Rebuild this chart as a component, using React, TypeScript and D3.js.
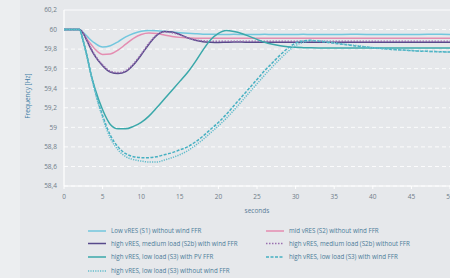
import * as d3 from 'd3';

const time = [0, 1, 2, 2.5, 3, 3.5, 4, 5, 6, 7, 8, 9, 10, 11, 12, 13, 14, 15, 16, 17, 18, 19, 20, 21, 22, 23, 24, 25, 26, 27, 28, 29, 30, 31, 32, 33, 34, 36, 38, 40, 42, 44, 46, 48, 50];

const s1 = [60, 60, 60, 59.97, 59.93, 59.89, 59.86, 59.822, 59.835, 59.875, 59.925, 59.96, 59.982, 59.99, 59.988, 59.982, 59.975, 59.968, 59.962, 59.957, 59.953, 59.952, 59.95, 59.95, 59.951, 59.95, 59.949, 59.95, 59.951, 59.95, 59.95, 59.949, 59.95, 59.951, 59.95, 59.95, 59.949, 59.95, 59.951, 59.95, 59.95, 59.949, 59.95, 59.951, 59.95];
const s2 = [60, 60, 60, 59.96, 59.9, 59.85, 59.8, 59.745, 59.75, 59.79, 59.85, 59.91, 59.95, 59.965, 59.96, 59.945, 59.93, 59.92, 59.915, 59.912, 59.91, 59.91, 59.91, 59.91, 59.91, 59.91, 59.91, 59.91, 59.91, 59.91, 59.91, 59.91, 59.91, 59.91, 59.91, 59.91, 59.91, 59.91, 59.91, 59.91, 59.91, 59.91, 59.91, 59.91, 59.91];
const s2bWind = [60, 60, 60, 59.96, 59.88, 59.8, 59.73, 59.63, 59.565, 59.55, 59.57, 59.64, 59.74, 59.85, 59.94, 59.98, 59.975, 59.95, 59.915, 59.89, 59.875, 59.87, 59.868, 59.87, 59.872, 59.872, 59.87, 59.87, 59.871, 59.87, 59.87, 59.87, 59.87, 59.87, 59.87, 59.87, 59.87, 59.87, 59.87, 59.87, 59.87, 59.87, 59.87, 59.87, 59.87];
const s2bNoFfr = [60, 60, 60, 59.96, 59.885, 59.81, 59.74, 59.64, 59.575, 59.56, 59.58, 59.65, 59.75, 59.86, 59.945, 59.975, 59.968, 59.945, 59.915, 59.895, 59.885, 59.88, 59.88, 59.88, 59.88, 59.88, 59.88, 59.88, 59.88, 59.88, 59.88, 59.88, 59.88, 59.88, 59.88, 59.88, 59.88, 59.88, 59.88, 59.88, 59.88, 59.88, 59.88, 59.88, 59.88];
const s3Pv = [60, 60, 60, 59.88, 59.72, 59.54, 59.4, 59.18, 59.03, 58.985, 58.985, 59.01, 59.05, 59.115, 59.2, 59.29, 59.38, 59.47, 59.56, 59.67, 59.79, 59.895, 59.96, 59.99, 59.98, 59.96, 59.93, 59.9, 59.87, 59.85, 59.835, 59.825, 59.818, 59.815, 59.813, 59.812, 59.812, 59.812, 59.812, 59.812, 59.812, 59.812, 59.812, 59.812, 59.812];
const s3Wind = [60, 60, 60, 59.88, 59.72, 59.54, 59.38, 59.12, 58.92, 58.8, 58.73, 58.7, 58.69, 58.69, 58.7, 58.72, 58.74, 58.77, 58.8, 58.85, 58.91, 58.98, 59.05, 59.13, 59.22, 59.31, 59.4, 59.49, 59.58, 59.66, 59.74, 59.81, 59.86, 59.885, 59.89, 59.88, 59.87, 59.85, 59.83, 59.815, 59.8, 59.79, 59.78, 59.775, 59.77];
const s3NoWind = [60, 60, 60, 59.88, 59.72, 59.54, 59.37, 59.1, 58.89, 58.77, 58.7, 58.67, 58.655, 58.645, 58.645, 58.665, 58.69, 58.72, 58.76, 58.815, 58.875, 58.945, 59.015, 59.09, 59.175, 59.265, 59.355, 59.445, 59.535, 59.62, 59.7, 59.775, 59.835, 59.87, 59.885, 59.885, 59.878, 59.855, 59.835, 59.815, 59.8, 59.79, 59.78, 59.775, 59.77];

const yTicks = [58.4, 58.6, 58.8, 59, 59.2, 59.4, 59.6, 59.8, 60, 60.2];
const xTicks = [0, 5, 10, 15, 20, 25, 30, 35, 40, 45, 50];

const series = [
  { name: 'Low vRES (S1) without wind FFR', values: s1, color: '#72c7de', dash: '' },
  { name: 'mid vRES (S2) without wind FFR', values: s2, color: '#e48db1', dash: '' },
  { name: 'high vRES, medium load (S2b) with wind FFR', values: s2bWind, color: '#574a8b', dash: '' },
  { name: 'high vRES, medium load (S2b) without FFR', values: s2bNoFfr, color: '#9a6fb0', dash: '1.5,1.5' },
  { name: 'high vRES, low load (S3) with PV FFR', values: s3Pv, color: '#3aa8aa', dash: '' },
  { name: 'high vRES, low load (S3) with wind FFR', values: s3Wind, color: '#46b0c2', dash: '3,1.5' },
  { name: 'high vRES, low load (S3) without wind FFR', values: s3NoWind, color: '#62bccb', dash: '1.2,1.2' },
];

const fmt = (v: number) => String(Math.round(v * 10) / 10).replace('.', ',');

export default function App() {
  const width = 450;
  const height = 278;
  const x = d3.scaleLinear().domain([0, 50]).range([64, 450]);
  const y = d3.scaleLinear().domain([58.4, 60.2]).range([186, 10]);

  const line = (vals: number[]) =>
    d3.line<number>()
      .x((_, i) => x(time[i]))
      .y(d => y(d))
      .curve(d3.curveMonotoneX)(vals) || '';

  const font = "'Open Sans', sans-serif";
  const legendRows = [231, 243.5, 257, 271];

  return (
    <svg width={width} height={height} style={{ position: 'absolute', left: 0, top: 0 }}>
      <rect x={0} y={0} width={width} height={height} fill="#e6e8eb" />
      <rect x={0} y={0} width={20} height={height} fill="#eceef0" />

      {yTicks.map(t => (
        <line key={t} x1={64} x2={450} y1={y(t)} y2={y(t)} stroke="#ffffff"
          strokeWidth={1} strokeDasharray={t === 60.2 ? '' : '4,3'} opacity={0.9} />
      ))}
      <line x1={64} x2={64} y1={10} y2={186} stroke="#ffffff" strokeWidth={1.2} />
      <line x1={64} x2={450} y1={186} y2={186} stroke="#ffffff" strokeWidth={1.2} />
      {xTicks.map(t => (
        <line key={t} x1={x(t)} x2={x(t)} y1={186} y2={189} stroke="#ffffff" />
      ))}

      {yTicks.map(t => (
        <text key={t} x={57} y={y(t) + 2.3} textAnchor="end" fontSize={6.5} fill="#6f7c88" fontFamily={font}>{fmt(t)}</text>
      ))}
      {xTicks.map(t => (
        <text key={t} x={x(t)} y={199} textAnchor="middle" fontSize={6.5} fill="#6f7c88" fontFamily={font}>{t}</text>
      ))}
      <text transform="translate(30,96) rotate(-90)" textAnchor="middle" fontSize={6.5} fill="#3f7ea6" fontFamily={font}>Frequency [Hz]</text>
      <text x={257} y={213} textAnchor="middle" fontSize={6.5} fill="#5a7d98" fontFamily={font}>seconds</text>

      {series.map(s => (
        <path key={s.name} d={line(s.values)} fill="none" stroke={s.color} strokeWidth={1.5}
          strokeDasharray={s.dash} />
      ))}

      {series.map((s, i) => {
        const col = i % 2;
        const row = Math.floor(i / 2);
        const lx = col === 0 ? 88 : 266;
        const ly = legendRows[row];
        return (
          <g key={s.name}>
            <line x1={lx} x2={lx + 18} y1={ly} y2={ly} stroke={s.color} strokeWidth={1.5} strokeDasharray={s.dash} />
            <text x={lx + 23} y={ly + 2.2} fontSize={6.2} fill="#4a7b98" fontFamily={font}>{s.name}</text>
          </g>
        );
      })}
    </svg>
  );
}
